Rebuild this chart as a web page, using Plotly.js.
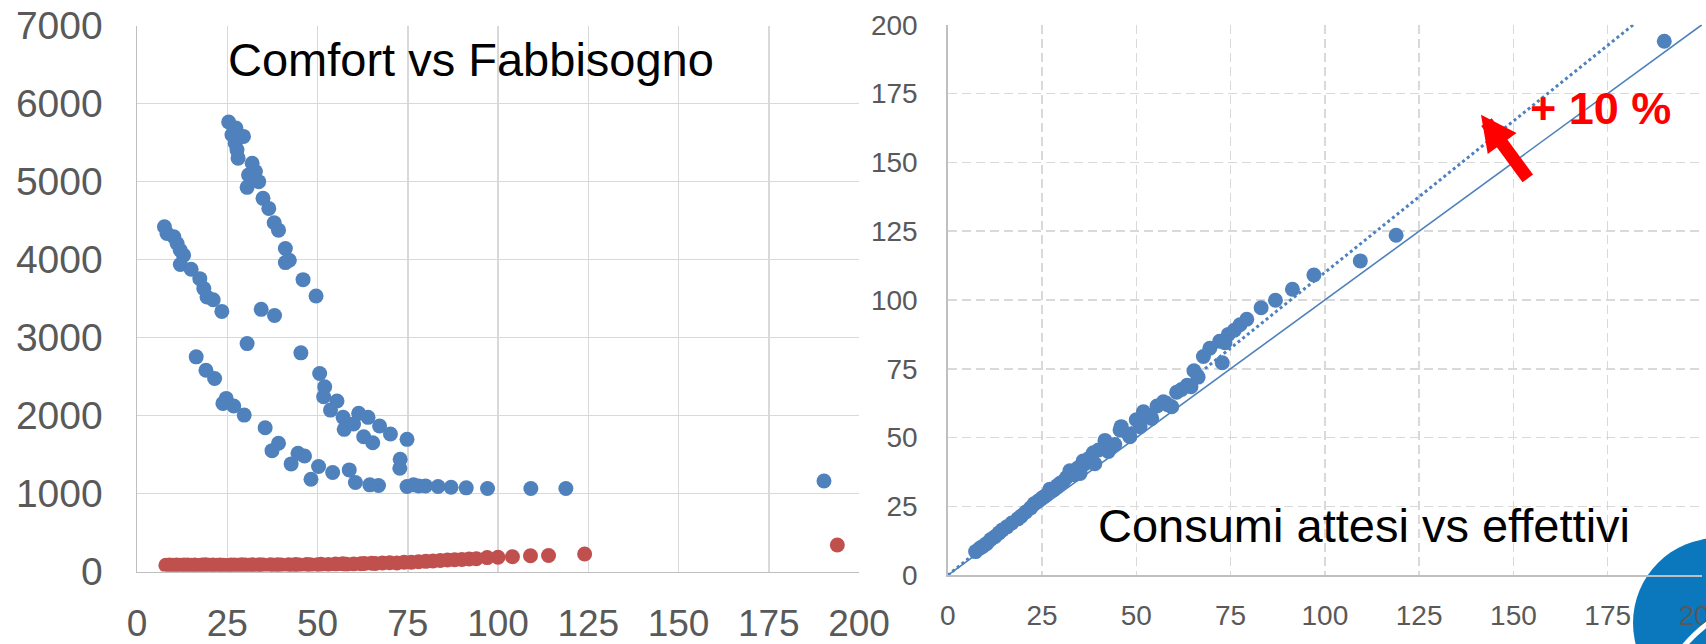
<!DOCTYPE html>
<html>
<head>
<meta charset="utf-8">
<script src="https://cdn.plot.ly/plotly-3.0.1.min.js"></script>
<style>
html, body { margin: 0; padding: 0; background: #ffffff; }
#chart { width: 1706px; height: 644px; }
</style>
</head>
<body>
<div id="chart"></div>
<script>
// ---------- Left chart: Comfort vs Fabbisogno ----------
var comfortX = [
  25.4, 27.4, 26.3, 29.5, 27.2, 27.7, 28.0, 31.9, 32.8, 30.9, 33.7, 30.5, 34.9, 36.5, 38.0, 39.2, 41.1, 41.1, 42.2, 46.0, 49.6,
  7.6, 8.3, 10.2, 11.1, 12.0, 12.9, 12.0, 15.0, 17.4, 18.5, 19.4, 21.1, 23.5, 34.4, 38.1,
  30.5, 16.4, 45.4, 19.1, 21.5, 50.6, 52.0, 24.7, 23.8, 26.8, 51.7, 55.4, 53.6, 29.7, 57.1, 61.4, 64.0, 57.4, 60.0, 67.2,
  70.2, 35.5, 62.8, 65.3, 74.8, 39.2, 37.4, 44.6, 46.4, 42.7, 50.3, 48.2, 54.2, 58.8, 72.9, 72.8, 60.5, 64.5, 66.9,
  74.8, 76.6, 78.0, 79.9, 83.4, 87.0, 91.2, 97.1, 109.1, 118.8, 190.3
];
var comfortY = [
  5764, 5687, 5601, 5580, 5494, 5408, 5301, 5236, 5129, 5086, 5000, 4927, 4786, 4657, 4473, 4378, 4142, 3962, 3992, 3743, 3533,
  4421, 4336, 4293, 4207, 4121, 4057, 3937, 3876, 3756, 3628, 3520, 3486, 3336, 3362, 3284,
  2923, 2753, 2804, 2582, 2476, 2539, 2369, 2220, 2156, 2122, 2241, 2186, 2070, 2006, 1977, 2028, 1977, 1823, 1891, 1866,
  1763, 1844, 1729, 1652, 1695, 1644, 1550, 1516, 1482, 1380, 1346, 1184, 1269, 1303, 1439, 1324, 1141, 1111, 1103,
  1090, 1111, 1098, 1098, 1090, 1081, 1073, 1064, 1064, 1064, 1160
];
var fabbX = [
  8, 9, 10, 11, 12, 13, 14, 15, 16, 17, 18, 19, 20, 21, 22, 23, 24, 25, 26, 27, 28, 29, 30, 31, 32, 33, 34, 35,
  37, 38, 39, 40, 42, 43, 44, 45, 47, 48, 50, 51, 53, 55, 57, 58, 60, 62, 63, 65, 66, 68, 70, 72, 74, 76, 78, 80,
  82, 84, 86, 88, 90, 92, 94, 97, 100, 104, 109, 114, 124, 194
];
var fabbY = [
  80, 82, 80, 83, 81, 84, 82, 80, 83, 78, 82, 85, 80, 83, 79, 84, 81, 78, 84, 82, 80, 86, 83, 81, 85, 79, 87, 82,
  85, 80, 88, 84, 86, 81, 89, 84, 90, 86, 88, 92, 90, 95, 98, 92, 96, 100, 104, 106, 102, 110, 112, 109, 118, 120, 125, 130,
  135, 142, 148, 152, 155, 160, 165, 178, 182, 190, 202, 205, 225, 340
];

// ---------- Right chart: Consumi attesi vs effettivi ----------
var attesiX = [
  7.4, 8.5, 9.3, 10.3, 11.4, 12.5, 13.6, 14.5, 15.7, 17.0, 18.6, 19.5, 20.7, 22.0, 22.9, 24.0, 25.0, 26.0, 27.1, 28.0,
  29.0, 29.8, 30.7, 31.5, 32.4, 33.6, 34.5, 35.1, 35.9, 36.4, 37.5, 38.6, 39.0, 40.0, 41.7, 42.6, 44.3, 45.7, 46.0, 47.9,
  48.3, 50.0, 51.0, 51.9, 53.0, 54.1, 55.5, 57.2, 58.3, 59.4, 60.7, 62.0, 63.5, 64.5, 65.3, 66.4, 67.8, 69.5, 72.1, 72.8,
  73.5, 74.4, 76.0, 77.5, 79.3, 83.1, 86.9, 91.4, 97.1, 109.4, 118.9, 190.0
];
var effettiviY = [
  8.6, 9.8, 10.5, 11.5, 13.0, 14.0, 15.4, 16.5, 17.6, 19.0, 20.5, 21.5, 23.0, 24.5, 26.0, 27.0, 28.1, 29.0, 31.3, 31.0,
  32.5, 33.4, 34.1, 35.5, 38.0, 36.5, 39.0, 37.0, 41.5, 40.5, 42.5, 44.5, 40.5, 45.5, 49.0, 45.0, 47.5, 52.8, 54.0, 51.3,
  50.3, 56.5, 54.0, 59.4, 58.0, 57.0, 61.5, 63.0, 62.0, 61.2, 66.5, 67.5, 69.0, 68.5, 74.3, 72.0, 79.5, 82.5, 85.0, 77.2,
  84.5, 87.5, 89.0, 91.0, 93.0, 97.2, 99.9, 103.9, 109.1, 114.2, 123.5, 194.0
];
var refLineX = [0, 200];
var refLineY = [0, 200];
var plus10X = [0, 181.8];
var plus10Y = [0, 200];

var xTicks = [0, 25, 50, 75, 100, 125, 150, 175, 200];
var yTicksLeft = [0, 1000, 2000, 3000, 4000, 5000, 6000, 7000];
var yTicksRight = [0, 25, 50, 75, 100, 125, 150, 175, 200];

var BLUE = '#4f81bd';
var RED = '#c0504d';
var FONT = 'Liberation Sans, Arial, sans-serif';
var W = 1706, H = 644;
function px(x) { return x / W; }
function py(y) { return (H - y) / H; }

var traces = [
  { type: 'scatter', mode: 'markers', x: comfortX, y: comfortY, xaxis: 'x', yaxis: 'y',
    marker: { color: BLUE, size: 15 }, hoverinfo: 'x+y' },
  { type: 'scatter', mode: 'markers', x: fabbX, y: fabbY, xaxis: 'x', yaxis: 'y',
    marker: { color: RED, size: 15 }, hoverinfo: 'x+y' },
  { type: 'scatter', mode: 'lines', x: refLineX, y: refLineY, xaxis: 'x2', yaxis: 'y2',
    line: { color: BLUE, width: 1.6 }, hoverinfo: 'skip' },
  { type: 'scatter', mode: 'lines', x: plus10X, y: plus10Y, xaxis: 'x2', yaxis: 'y2',
    line: { color: BLUE, width: 3, dash: 'dot' }, hoverinfo: 'skip' },
  { type: 'scatter', mode: 'markers', x: attesiX, y: effettiviY, xaxis: 'x2', yaxis: 'y2',
    marker: { color: BLUE, size: 15 }, hoverinfo: 'x+y' }
];

var gridGray = '#d9d9d9';
var lineGray = '#bfbfbf';
var tickGray = '#595959';

var layout = {
  width: W, height: H,
  margin: { l: 0, r: 0, t: 0, b: 0 },
  paper_bgcolor: '#ffffff',
  plot_bgcolor: 'rgba(0,0,0,0)',
  showlegend: false,
  font: { family: FONT, color: tickGray },
  xaxis: {
    domain: [px(137), px(859)], range: [0, 200], tickvals: xTicks, ticktext: xTicks.map(String),
    showgrid: true, gridcolor: gridGray, gridwidth: 1.5, zeroline: false,
    showline: true, linecolor: lineGray, linewidth: 1.5, ticks: '',
    tickfont: { family: FONT, size: 37, color: tickGray }, ticklabelstandoff: 19,
    ticklabeloverflow: 'allow', anchor: 'y'
  },
  yaxis: {
    domain: [py(571.5), py(25.7)], range: [0, 7000], tickvals: yTicksLeft, ticktext: yTicksLeft.map(String),
    showgrid: true, gridcolor: gridGray, gridwidth: 1.5, zeroline: false,
    showline: true, linecolor: lineGray, linewidth: 1.5, ticks: '',
    tickfont: { family: FONT, size: 39, color: tickGray }, ticklabelstandoff: 25,
    ticklabeloverflow: 'allow', anchor: 'x'
  },
  xaxis2: {
    domain: [px(947.7), px(1702)], range: [0, 200], tickvals: xTicks, ticktext: xTicks.map(String),
    showgrid: true, gridcolor: gridGray, gridwidth: 1.5, griddash: '9px,5px', zeroline: false,
    showline: true, linecolor: lineGray, linewidth: 1.5, ticks: '',
    tickfont: { family: FONT, size: 28, color: tickGray }, ticklabelstandoff: 15,
    ticklabeloverflow: 'allow', anchor: 'y2'
  },
  yaxis2: {
    domain: [py(575.3), py(24.7)], range: [0, 200], tickvals: yTicksRight, ticktext: yTicksRight.map(String),
    showgrid: true, gridcolor: gridGray, gridwidth: 1.5, griddash: '9px,5px', zeroline: false,
    showline: true, linecolor: lineGray, linewidth: 1.5, ticks: '',
    tickfont: { family: FONT, size: 28, color: tickGray }, ticklabelstandoff: 23,
    ticklabeloverflow: 'allow', anchor: 'x2'
  },
  shapes: [
    { type: 'circle', xref: 'paper', yref: 'paper', layer: 'below',
      x0: px(1633), x1: px(1803), y0: py(708), y1: py(538),
      fillcolor: '#0b78bd', line: { width: 0 } },
    { type: 'path', xref: 'paper', yref: 'paper', layer: 'above',
      path: 'M ' + px(1684) + ' ' + py(646) + ' Q ' + px(1696) + ' ' + py(632) + ' ' + px(1710) + ' ' + py(622),
      line: { color: '#ffffff', width: 5 } }
  ],
  annotations: [
    { xref: 'paper', yref: 'paper', x: px(470.5), y: py(60), xanchor: 'center', yanchor: 'middle',
      text: 'Comfort vs Fabbisogno', showarrow: false,
      font: { family: FONT, size: 47, color: '#000000' } },
    { xref: 'paper', yref: 'paper', x: px(1364), y: py(525.5), xanchor: 'center', yanchor: 'middle',
      text: 'Consumi attesi vs effettivi', showarrow: false,
      font: { family: FONT, size: 47, color: '#000000' } },
    { xref: 'paper', yref: 'paper', x: px(1600), y: py(109), xanchor: 'center', yanchor: 'middle',
      text: '<b>+ 10 %</b>', showarrow: false,
      font: { family: FONT, size: 45, color: '#ff0000' } },
    { xref: 'x2', yref: 'y2', axref: 'x2', ayref: 'y2',
      x: 141.4, y: 167.3, ax: 154.1, ay: 143.6, text: '', showarrow: true,
      arrowhead: 2, arrowsize: 0.55, arrowwidth: 13, arrowcolor: '#ff0000' }
  ]
};

Plotly.newPlot('chart', traces, layout, { staticPlot: true, displayModeBar: false });
</script>
</body>
</html>
